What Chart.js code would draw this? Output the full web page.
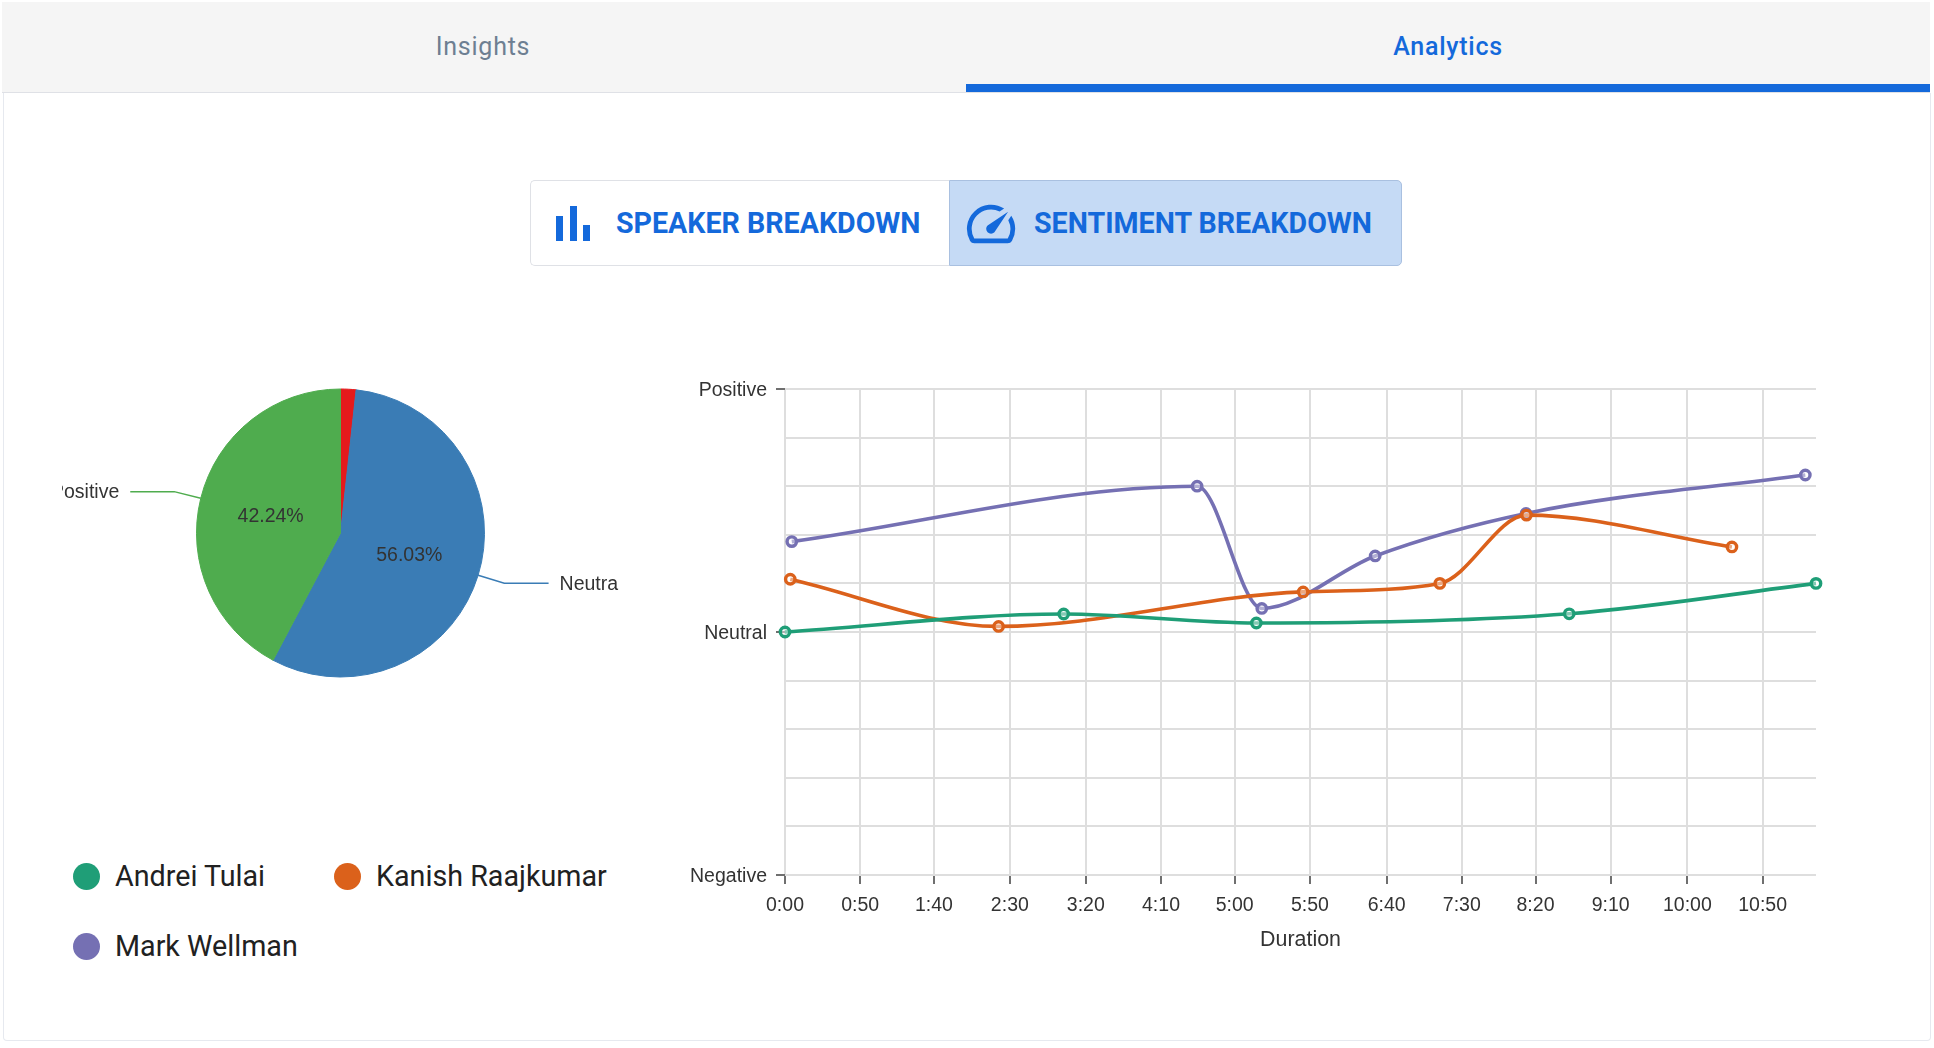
<!DOCTYPE html>
<html><head><meta charset="utf-8">
<script src="https://cdn.jsdelivr.net/npm/chart.js@4/dist/chart.umd.min.js"></script>
<style>
html,body{margin:0;padding:0;background:#fff;width:1934px;height:1048px;overflow:hidden;font-family:Roboto,sans-serif}
.abs{position:absolute}
#tabs{left:2px;top:2px;width:1928px;height:91px;background:#f5f5f5;border-bottom:1px solid #dfe1e6;box-sizing:border-box}
#card{left:3px;top:93px;width:1928px;height:948px;background:#fff;border:1px solid #e6e9ef;border-top:none;box-sizing:border-box;border-radius:0 0 4px 4px}
#bar{left:966px;top:84px;width:964px;height:8px;background:#1469db}
.tab{top:29px;height:36px;line-height:36px;font-size:25px;letter-spacing:0.75px;text-align:center;transform:translateX(-50%)}
#t1{left:483px;color:#6d7f92}
#t2{left:1448px;color:#1469db;font-weight:500}
#b1{left:530px;top:180px;width:419px;height:86px;border:1px solid #dfe1e6;border-right:none;border-radius:5px 0 0 5px;background:#fff;box-sizing:border-box}
#b2{left:948.5px;top:180px;width:453.5px;height:86px;border:1px solid #a9c0e0;border-radius:0 5px 5px 0;background:#c5daf5;box-sizing:border-box}
.bt{top:204px;height:38px;line-height:38px;font-size:28.6px;font-weight:700;color:#1469db;white-space:nowrap}
#legend div.d{position:absolute;width:27px;height:27px;border-radius:50%}
#legend div.t{position:absolute;font-size:28.7px;line-height:36px;color:#212121;white-space:nowrap}
canvas{position:absolute;display:block}
</style></head><body>
<div class="abs" id="tabs"></div>
<div class="abs" id="card"></div>
<div class="abs" id="bar"></div>
<div class="abs tab" id="t1">Insights</div>
<div class="abs tab" id="t2">Analytics</div>
<div class="abs" id="b1"></div>
<div class="abs" id="b2"></div>
<svg class="abs" style="left:555px;top:206px" width="36" height="35" viewBox="0 0 36 35"><rect x="1" y="10" width="7" height="25" fill="#1469db"/><rect x="15" y="0" width="7" height="35" fill="#1469db"/><rect x="28" y="19" width="7" height="16" fill="#1469db"/></svg>
<svg class="abs" style="left:962px;top:195px" width="58" height="58" viewBox="0 0 24 24"><path fill="#1469db" d="M20.38 8.57l-1.23 1.85a8 8 0 0 1-.22 7.58H5.07A8 8 0 0 1 15.58 6.85l1.85-1.23A10 10 0 0 0 3.35 19a2 2 0 0 0 1.72 1h13.85a2 2 0 0 0 1.74-1 10 10 0 0 0-.27-10.44zm-9.79 6.84a2 2 0 0 0 2.83 0l5.66-8.49-8.49 5.66a2 2 0 0 0 0 2.83z"/></svg>
<div class="abs bt" style="left:616px">SPEAKER BREAKDOWN</div>
<div class="abs bt" style="left:1034px">SENTIMENT BREAKDOWN</div>
<canvas id="pie" width="557" height="386" style="left:62px;top:340px"></canvas>
<canvas id="line" width="1180" height="593" style="left:660px;top:360px"></canvas>
<div id="legend"></div>
<script>
const sentimentLabels = ['Negative', 'Neutral', 'Positive'];
const sentimentShares = [1.73, 56.03, 42.24];
const sentimentColors = ['#e41a1c', '#3a7cb5', '#4fac4e'];

const speakerNames = ['Andrei Tulai', 'Kanish Raajkumar', 'Mark Wellman'];
const speakerColors = ['#1f9e77', '#db611b', '#7570b3'];

const andreiSeconds = [0, 185.3, 313.4, 521.4, 685.5];
const andreiValues = [0, 0.074, 0.037, 0.075, 0.2];
const kanishSeconds = [3.5, 142, 344.5, 435.4, 493, 629.6];
const kanishValues = [0.217, 0.023, 0.165, 0.2, 0.481, 0.35];
const markSeconds = [4.5, 274, 317, 392.4, 492.7, 678.4];
const markValues = [0.372, 0.6, 0.097, 0.313, 0.488, 0.646];

const xTickSeconds = [0, 50, 99, 149.5, 200, 250, 299, 349, 400, 450, 499, 549, 600, 650];
const xTickLabels = ['0:00','0:50','1:40','2:30','3:20','4:10','5:00','5:50','6:40','7:30','8:20','9:10','10:00','10:50'];
const yTickValues = [-1, 0, 1];
const yTickLabels = ['Negative', 'Neutral', 'Positive'];
const xTitle = 'Duration';

const FONT = '"Liberation Sans", Arial, sans-serif';
const TEXT = '#333333';

const pieCallouts = {
  id: 'pieCallouts',
  afterDatasetsDraw(chart) {
    const ctx = chart.ctx;
    chart.getDatasetMeta(0).data.forEach((arc, i) => {
      const share = sentimentShares[i];
      if (share < 2) return;
      const c = arc.getCenterPoint();
      ctx.save();
      ctx.font = '19.5px ' + FONT;
      ctx.fillStyle = TEXT;
      ctx.textAlign = 'center';
      ctx.textBaseline = 'middle';
      ctx.fillText(share.toFixed(2) + '%', c.x, c.y + 1);
      const mid = (arc.startAngle + arc.endAngle) / 2;
      const r = arc.outerRadius;
      const dx = Math.cos(mid), dy = Math.sin(mid), side = dx >= 0 ? 1 : -1;
      const ex = arc.x + dx * r * 1.19, ey = arc.y + dy * r * 1.19;
      const lx = arc.x + side * r * (side > 0 ? 1.445 : 1.46);
      ctx.strokeStyle = sentimentColors[i];
      ctx.lineWidth = 1.5;
      ctx.beginPath();
      ctx.moveTo(arc.x + dx * r, arc.y + dy * r);
      ctx.lineTo(ex, ey);
      ctx.lineTo(lx, ey);
      ctx.stroke();
      ctx.textAlign = side > 0 ? 'left' : 'right';
      ctx.fillText(sentimentLabels[i], lx + side * 11, ey + 1);
      ctx.restore();
    });
  }
};

new Chart(document.getElementById('pie'), {
  type: 'pie',
  data: {
    labels: sentimentLabels,
    datasets: [{
      data: sentimentShares,
      backgroundColor: sentimentColors,
      borderColor: sentimentColors,
      borderWidth: 1
    }]
  },
  options: {
    responsive: false,
    animation: false,
    layout: { padding: { left: 134, right: 134, top: 48, bottom: 48 } },
    plugins: { legend: { display: false }, tooltip: { enabled: false } }
  },
  plugins: [pieCallouts]
});

function series(i, secs, vals) {
  return {
    label: speakerNames[i],
    data: secs.map((s, k) => ({ x: s, y: vals[k] })),
    borderColor: speakerColors[i],
    borderWidth: 3.6,
    cubicInterpolationMode: 'monotone',
    pointRadius: 4.7,
    pointBorderWidth: 3.4,
    pointBorderColor: speakerColors[i],
    pointBackgroundColor: 'rgba(255,255,255,0.45)',
    clip: false,
    fill: false
  };
}

new Chart(document.getElementById('line'), {
  type: 'line',
  data: {
    datasets: [
      series(0, andreiSeconds, andreiValues),
      series(1, kanishSeconds, kanishValues),
      series(2, markSeconds, markValues)
    ]
  },
  options: {
    responsive: false,
    animation: false,
    layout: { padding: { top: 29, right: 24, left: 0, bottom: 0 } },
    plugins: { legend: { display: false }, tooltip: { enabled: false } },
    scales: {
      x: {
        type: 'linear',
        min: 0,
        max: 685.5,
        afterBuildTicks(scale) { scale.ticks = xTickSeconds.map(v => ({ value: v })); },
        afterFit(scale) { scale.height = 78; },
        border: { display: false },
        grid: { color: '#dedede', lineWidth: 2, tickColor: '#6f6f6f', tickLength: 9, tickWidth: 2 },
        ticks: {
          autoSkip: false, maxRotation: 0, padding: 10,
          color: TEXT, font: { family: FONT, size: 19.5 },
          callback(v, i) { return xTickLabels[i]; }
        },
        title: { display: true, text: xTitle, color: TEXT, font: { family: FONT, size: 21.4 }, padding: { top: 8, bottom: 0 } }
      },
      y: {
        min: -1,
        max: 1,
        afterFit(scale) { scale.width = 125; },
        border: { display: false },
        grid: {
          color: '#dedede', lineWidth: 2, tickLength: 9, tickWidth: 2,
          tickColor(c) { return yTickValues.includes(Math.round(c.tick.value * 5) / 5) ? '#6f6f6f' : 'rgba(0,0,0,0)'; }
        },
        ticks: {
          stepSize: 0.2, padding: 9, labelOffset: 2,
          color: TEXT, font: { family: FONT, size: 19.5 },
          callback(v) { const k = yTickValues.indexOf(Math.round(v * 5) / 5); return k < 0 ? '' : yTickLabels[k]; }
        }
      }
    }
  }
});

const legendSlots = [[73, 115, 876], [334, 376, 876], [73, 115, 946]];
const legend = document.getElementById('legend');
speakerNames.forEach((n, i) => {
  const s = legendSlots[i];
  legend.insertAdjacentHTML('beforeend',
    `<div class="d" style="left:${s[0]}px;top:${s[2]-13.5}px;background:${speakerColors[i]}"></div>` +
    `<div class="t" style="left:${s[1]}px;top:${s[2]-18}px">${n}</div>`);
});
</script>
</body></html>
